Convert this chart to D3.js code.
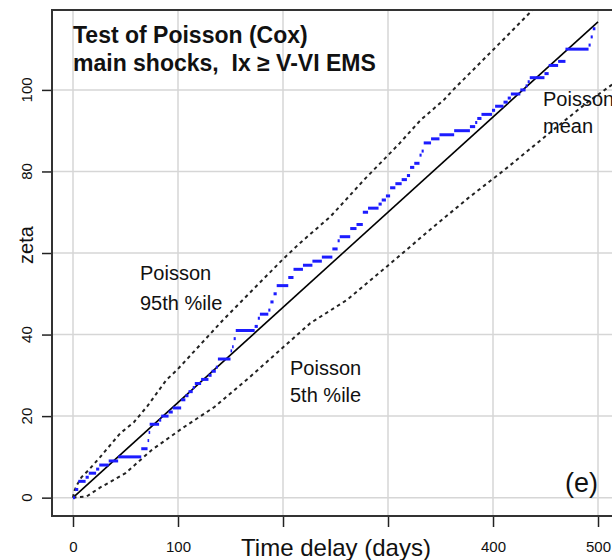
<!DOCTYPE html>
<html>
<head>
<meta charset="utf-8">
<script src="https://cdn.jsdelivr.net/npm/d3@7"></script>
<style>
  body { margin: 0; background: #fff; }
  text { font-family: "Liberation Sans", Arial, sans-serif; fill: #111; }
</style>
</head>
<body>
<svg id="main_svg_container" width="612" height="560"></svg>
<script>
// Poisson mean line (end points)
var meanT = [0, 500];
var meanZ = [0, 116.7];

// Poisson 95th percentile
var upperT = [0, 1, 3.5, 8, 15, 26, 45, 58, 71, 89, 99, 143, 200, 216, 245, 259, 277, 302, 311, 331, 353, 362, 400, 440];
var upperZ = [0, 1.5, 3, 5, 6.8, 10, 15.8, 18.5, 22.5, 28.9, 31.3, 43.6, 58.5, 62.4, 68.9, 72.8, 77.9, 84.5, 86.9, 92.6, 97.5, 100, 109.8, 120.2];

// Poisson 5th percentile
var lowerT = [0, 13, 26, 50, 75, 104, 135, 168, 226, 261, 299, 340, 376, 411, 455, 490, 520];
var lowerZ = [0, 0.3, 2.5, 6, 11.7, 17, 22.3, 29.5, 42.8, 48.5, 56.7, 65.7, 73.4, 80.4, 89.7, 97, 102.5];

// observed cumulative count: start of each step and its level
var stepT = [0, 2, 5, 12, 15, 22, 25, 34, 43, 65, 71, 72, 73, 82, 84, 91, 95, 103, 107, 110,
             114, 116, 122, 129, 132, 136, 138, 150, 151.5, 153, 155, 173, 176, 178, 186, 188, 191, 194, 205, 210,
             219, 228, 237, 247, 252, 254, 264, 270, 276, 281, 291, 294, 298, 302, 307, 313, 318, 321, 325, 330,
             332, 334, 341, 349, 363, 378, 383, 385, 389, 399, 402, 410, 414, 417, 426, 431, 433, 435, 449, 453,
             462, 469, 491, 493, 495];
var stepZ = [0, 2, 4, 5, 6, 7, 8, 9, 10, 12, 14, 16, 18, 19, 20, 21, 22, 24, 25, 26,
             27, 28, 29, 30, 31, 32, 34, 36, 37, 39, 41, 42, 44, 45, 46, 48, 50, 52, 54, 56,
             57, 58, 59, 61, 63, 64, 66, 67, 70, 71, 72, 73, 74, 76, 77, 78, 79, 81, 82, 84,
             85, 87, 88, 89, 90, 91, 92, 93, 94, 95, 96, 97, 98, 99, 100, 101, 102, 103, 104, 106,
             107, 110, 111, 113, 115];
var stepEnd = 497.5;

// ticks (some labels left blank, as in the original)
var xTicks = [0, 100, 200, 300, 400, 500];
var xTickLabels = ["0", "100", "", "", "400", "500"];
var yTicks = [0, 20, 40, 60, 80, 100];
var yTickLabels = ["0", "20", "40", "", "80", "100"];

var svg = d3.select("#main_svg_container");

var plot_left = 52, plot_right = 625, plot_top = 10, plot_bottom = 516;

var x = d3.scaleLinear().domain([-20, 525.7]).range([plot_left, plot_right]);
var y = d3.scaleLinear().domain([-4.5, 119.6]).range([plot_bottom, plot_top]);

function zip(a, b) {
  return a.map(function(v, i) { return [v, b[i]]; });
}

function drawGrid() {
  svg.append("g").selectAll("line").data(xTicks).enter().append("line")
      .attr("x1", function(d) { return x(d); })
      .attr("x2", function(d) { return x(d); })
      .attr("y1", plot_top).attr("y2", plot_bottom)
      .attr("stroke", "#d6d6d6").attr("stroke-width", 1.5);
  svg.append("g").selectAll("line").data(yTicks).enter().append("line")
      .attr("y1", function(d) { return y(d); })
      .attr("y2", function(d) { return y(d); })
      .attr("x1", plot_left).attr("x2", plot_right)
      .attr("stroke", "#d6d6d6").attr("stroke-width", 1.5);
}

function drawAxes() {
  // x axis
  var xa = svg.append("g")
      .attr("transform", "translate(0," + plot_bottom + ")")
      .call(d3.axisBottom(x).tickValues(xTicks)
        .tickFormat(function(d, i) { return xTickLabels[i]; })
        .tickSize(11).tickPadding(14));
  xa.select(".domain").remove();
  xa.selectAll(".tick line").attr("stroke", "#222").attr("stroke-width", 1.5);
  xa.selectAll(".tick text").attr("font-size", 15).attr("fill", "#111")
      .attr("font-family", "Liberation Sans, Arial, sans-serif");

  // y axis, labels turned like R
  var ya = svg.append("g")
      .attr("transform", "translate(" + plot_left + ",0)")
      .call(d3.axisLeft(y).tickValues(yTicks).tickSize(10).tickFormat(""));
  ya.select(".domain").remove();
  ya.selectAll(".tick line").attr("stroke", "#222").attr("stroke-width", 1.5);
  svg.append("g").selectAll("text").data(yTicks).enter().append("text")
      .attr("transform", function(d) { return "translate(32," + y(d) + ") rotate(-90)"; })
      .attr("text-anchor", "middle")
      .attr("font-size", 15)
      .text(function(d, i) { return yTickLabels[i]; });

  // frame
  svg.append("rect")
      .attr("x", plot_left).attr("y", plot_top)
      .attr("width", plot_right - plot_left).attr("height", plot_bottom - plot_top)
      .attr("fill", "none").attr("stroke", "#333").attr("stroke-width", 2);

  svg.append("text")
      .attr("x", 336).attr("y", 556)
      .attr("text-anchor", "middle")
      .attr("font-size", 24)
      .text("Time delay (days)");

  svg.append("text")
      .attr("transform", "translate(33,245) rotate(-90)")
      .attr("text-anchor", "middle")
      .attr("font-size", 20)
      .text("zeta");
}

function drawLines() {
  svg.append("clipPath").attr("id", "plot_clip")
    .append("rect")
      .attr("x", plot_left).attr("y", plot_top)
      .attr("width", plot_right - plot_left).attr("height", plot_bottom - plot_top);

  var g = svg.append("g").attr("clip-path", "url(#plot_clip)");
  var line = d3.line()
      .x(function(d) { return x(d[0]); })
      .y(function(d) { return y(d[1]); });

  // percentile bands, dotted
  [zip(upperT, upperZ), zip(lowerT, lowerZ)].forEach(function(pts) {
    g.append("path")
        .attr("d", line(pts))
        .attr("fill", "none")
        .attr("stroke", "#222")
        .attr("stroke-width", 2)
        .attr("stroke-dasharray", "3.5,3.5");
  });

  // mean
  g.append("path")
      .attr("d", line(zip(meanT, meanZ)))
      .attr("fill", "none")
      .attr("stroke", "#000")
      .attr("stroke-width", 1.6);

  // observed steps: only the flat parts show
  var steps = stepT.map(function(t, i) {
    return { t0: t, t1: i < stepT.length - 1 ? stepT[i + 1] : stepEnd, z: stepZ[i] };
  });
  g.append("g").selectAll("line").data(steps).enter().append("line")
      .attr("x1", function(d) { return x(d.t0); })
      .attr("x2", function(d) { return Math.max(x(d.t1), x(d.t0) + 1.6); })
      .attr("y1", function(d) { return y(d.z); })
      .attr("y2", function(d) { return y(d.z); })
      .attr("stroke", "#1c1cff")
      .attr("stroke-width", 3);
}

function drawLabels() {
  svg.append("text").attr("x", 73).attr("y", 43)
      .attr("font-size", 23).attr("font-weight", "bold")
      .text("Test of Poisson (Cox)");
  svg.append("text").attr("x", 73).attr("y", 71)
      .attr("font-size", 23).attr("font-weight", "bold")
      .style("white-space", "pre")
      .text("main shocks,  Ix \u2265 V-VI EMS");

  var labels = [
    { x: 140, y: 280, t: "Poisson" }, { x: 140, y: 310, t: "95th %ile" },
    { x: 290, y: 375, t: "Poisson" }, { x: 290, y: 402, t: "5th %ile" },
    { x: 543, y: 106, t: "Poisson" }, { x: 543, y: 133, t: "mean" }
  ];
  svg.append("g").selectAll("text").data(labels).enter().append("text")
      .attr("x", function(d) { return d.x; })
      .attr("y", function(d) { return d.y; })
      .attr("font-size", 20)
      .text(function(d) { return d.t; });

  svg.append("text").attr("x", 598).attr("y", 492)
      .attr("text-anchor", "end")
      .attr("font-size", 27)
      .text("(e)");
}

drawGrid();
drawLines();
drawAxes();
drawLabels();
</script>
</body>
</html>
